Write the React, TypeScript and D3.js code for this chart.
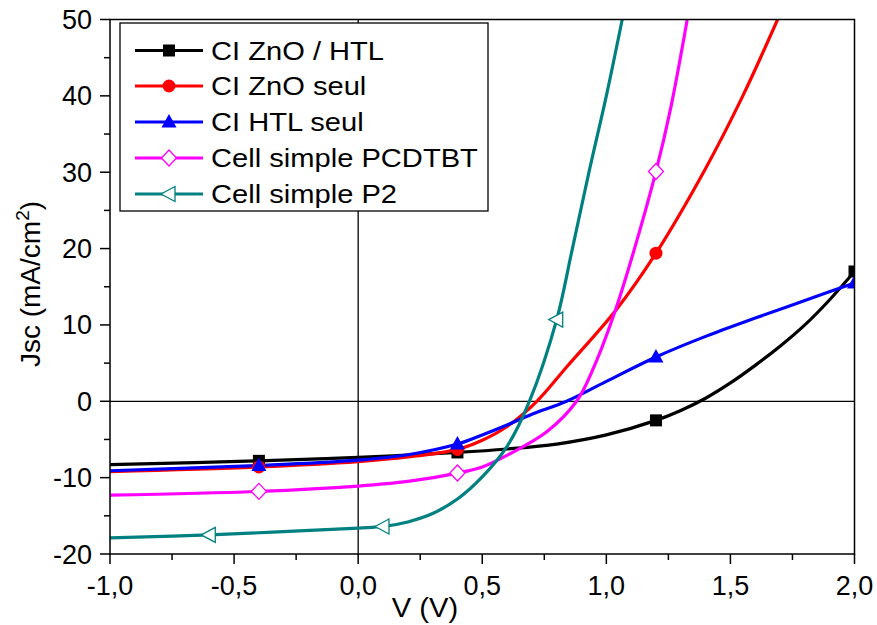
import React from "react";
import * as d3 from "d3";

const seriesNames = ["CI ZnO / HTL", "CI ZnO seul", "CI HTL seul", "Cell simple PCDTBT", "Cell simple P2"];
const seriesColors = ["#000000", "#ff0000", "#0000ff", "#ff00ff", "#008080"];
const seriesMarkers = ["square", "circle", "triangle", "diamond", "leftTriangle"];

const blackV = [-1.0, -0.4, 0.0, 0.4, 0.6, 0.8, 1.0, 1.2, 1.3, 1.4, 1.5, 1.6, 1.7, 1.8, 1.9, 2.0];
const blackJ = [-8.3, -7.8, -7.35, -6.7, -6.25, -5.6, -4.4, -2.5, -1.2, 0.4, 2.4, 4.7, 7.2, 10.0, 13.3, 17.0];
const blackMarkV = [-0.4, 0.4, 1.2, 2.0];

const redV = [-1.0, -0.4, 0.0, 0.2, 0.4, 0.5, 0.6, 0.72, 0.84, 1.04, 1.2, 1.4, 1.55, 1.69];
const redJ = [-9.2, -8.6, -7.9, -7.3, -6.3, -5.1, -3.3, 0.0, 4.5, 12.0, 19.4, 30.5, 40.0, 50.0];
const redMarkV = [-0.4, 0.4, 1.2];

const blueV = [-1.0, -0.4, 0.0, 0.2, 0.4, 0.5, 0.6, 0.7, 0.84, 1.0, 1.2, 1.4, 1.6, 1.8, 2.0];
const blueJ = [-9.1, -8.4, -7.7, -7.0, -5.6, -4.4, -3.1, -1.7, 0.0, 2.6, 5.8, 8.5, 10.9, 13.2, 15.5];
const blueMarkV = [-0.4, 0.4, 1.2, 2.0];

const magentaV = [-1.0, -0.4, 0.0, 0.2, 0.4, 0.5, 0.61, 0.76, 0.88, 0.95, 1.03, 1.1, 1.2, 1.26, 1.326];
const magentaJ = [-12.3, -11.8, -11.1, -10.5, -9.4, -8.6, -6.9, -4.0, 0.0, 4.5, 11.3, 18.5, 30.1, 38.5, 50.0];
const magentaMarkV = [-0.4, 0.4, 1.2];

const tealV = [-1.0, -0.6, 0.0, 0.1, 0.2, 0.3, 0.4, 0.5, 0.6, 0.69, 0.8, 0.86, 0.93, 1.0, 1.064];
const tealJ = [-17.9, -17.5, -16.6, -16.4, -15.8, -14.7, -12.8, -9.9, -5.9, 0.0, 10.7, 19.5, 30.0, 40.0, 50.0];
const tealMarkV = [-0.6, 0.1, 0.8];

const xTicks = [-1.0, -0.5, 0.0, 0.5, 1.0, 1.5, 2.0];
const yTicks = [-20, -10, 0, 10, 20, 30, 40, 50];

const allV = [blackV, redV, blueV, magentaV, tealV];
const allJ = [blackJ, redJ, blueJ, magentaJ, tealJ];
const allMarks = [blackMarkV, redMarkV, blueMarkV, magentaMarkV, tealMarkV];

const FONT = "Liberation Sans, Arial, sans-serif";

function Marker({ type, x, y, color }: { type: string; x: number; y: number; color: string }) {
  if (type === "square") return <rect x={x - 6} y={y - 6} width={12} height={12} fill={color} />;
  if (type === "circle") return <circle cx={x} cy={y} r={6.5} fill={color} />;
  if (type === "triangle")
    return <path d={`M${x},${y - 8}L${x + 7.5},${y + 5.5}L${x - 7.5},${y + 5.5}Z`} fill={color} />;
  if (type === "diamond")
    return <path d={`M${x},${y - 8}L${x + 7.5},${y}L${x},${y + 8}L${x - 7.5},${y}Z`} fill="#fff" stroke={color} strokeWidth={1.3} />;
  return <path d={`M${x - 8},${y}L${x + 6},${y - 7.5}L${x + 6},${y + 7.5}Z`} fill="#fff" stroke={color} strokeWidth={1.3} />;
}

export default function App() {
  const W = 877, H = 625;
  const left = 110, right = 854.5, top = 19.5, bottom = 554;
  const x = d3.scaleLinear().domain([-1, 2]).range([left, right]);
  const y = d3.scaleLinear().domain([-20, 50]).range([bottom, top]);

  const line = d3.line<[number, number]>().x(d => x(d[0])).y(d => y(d[1])).curve(d3.curveCatmullRom.alpha(0.5));
  const pointsOf = (i: number) => allV[i].map((v, k) => [v, allJ[i][k]] as [number, number]);
  const jAt = (i: number, v: number) => {
    const k = allV[i].findIndex(u => Math.abs(u - v) < 1e-9);
    return allJ[i][k];
  };

  const xMinor = d3.range(-1, 2.001, 0.25);
  const yMinor = d3.range(-20, 50.001, 5);

  const legX = 120, legY = 23, legW = 368, legH = 188;
  const rowY = [50.5, 86, 122, 158, 194];

  return (
    <svg width={W} height={H} style={{ display: "block", position: "absolute", left: 0, top: 0, background: "#fff" }} fontFamily={FONT}>
      <defs>
        <clipPath id="plotclip">
          <rect x={left} y={top} width={right - left} height={bottom - top} />
        </clipPath>
      </defs>
      <rect x={0} y={0} width={W} height={H} fill="#fff" />
      <line x1={left} x2={right} y1={y(0)} y2={y(0)} stroke="#000" strokeWidth={1.3} />
      <line x1={x(0)} x2={x(0)} y1={top} y2={bottom} stroke="#000" strokeWidth={1.3} />
      <g clipPath="url(#plotclip)">
        {allV.map((_, i) => (
          <path key={i} d={line(pointsOf(i)) || ""} fill="none" stroke={seriesColors[i]} strokeWidth={3.2} />
        ))}
        {allMarks.map((ms, i) =>
          ms.map((v, k) => (
            <Marker key={`${i}-${k}`} type={seriesMarkers[i]} x={x(v)} y={y(jAt(i, v))} color={seriesColors[i]} />
          ))
        )}
      </g>
      <rect x={left} y={top} width={right - left} height={bottom - top} fill="none" stroke="#000" strokeWidth={1.5} />
      {xMinor.map((v, i) => {
        const major = Math.abs(v * 2 - Math.round(v * 2)) < 1e-6;
        return <line key={i} x1={x(v)} x2={x(v)} y1={bottom} y2={bottom + (major ? 10 : 6)} stroke="#000" strokeWidth={1.5} />;
      })}
      {yMinor.map((v, i) => {
        const major = Math.abs(v / 10 - Math.round(v / 10)) < 1e-6;
        return <line key={i} x1={left} x2={left - (major ? 10 : 6)} y1={y(v)} y2={y(v)} stroke="#000" strokeWidth={1.5} />;
      })}
      {xTicks.map((v, i) => (
        <text key={i} x={x(v)} y={595} fontSize={27} textAnchor="middle">
          {d3.format(".1f")(v).replace(".", ",").replace("−", "-")}
        </text>
      ))}
      {yTicks.map((v, i) => (
        <text key={i} x={92} y={y(v) + 9.5} fontSize={27} textAnchor="end">
          {String(v)}
        </text>
      ))}
      <text transform="translate(425,617) scale(1.04,1)" fontSize={28} textAnchor="middle">V (V)</text>
      <text transform={`translate(40,${284}) rotate(-90)`} fontSize={28} textAnchor="middle">
        Jsc (mA/cm<tspan dy={-11} fontSize={19}>2</tspan><tspan dy={11}>)</tspan>
      </text>
      <rect x={legX} y={legY} width={legW} height={legH} fill="#fff" stroke="#000" strokeWidth={1.3} />
      {seriesNames.map((name, i) => (
        <g key={i}>
          <line x1={135} x2={203} y1={rowY[i]} y2={rowY[i]} stroke={seriesColors[i]} strokeWidth={3.2} />
          <Marker type={seriesMarkers[i]} x={169} y={rowY[i]} color={seriesColors[i]} />
          <text transform={`translate(211,${rowY[i] + 9}) scale(1.12,1)`} fontSize={26}>{name}</text>
        </g>
      ))}
    </svg>
  );
}
